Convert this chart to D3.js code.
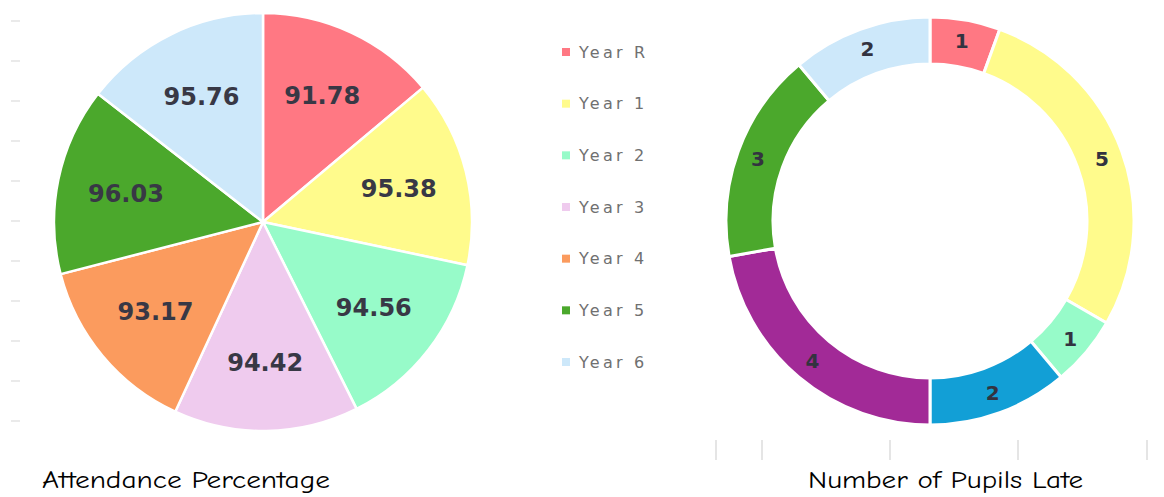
<!DOCTYPE html>
<html>
<head>
<meta charset="utf-8">
<script src="https://cdn.jsdelivr.net/npm/d3@7"></script>
<style>
  html, body { margin: 0; padding: 0; background: #ffffff; }
  svg { display: block; }
</style>
</head>
<body>
<svg id="chart" width="1164" height="497"></svg>
<script>
// ---- Data ----
const categories = ["Year R", "Year 1", "Year 2", "Year 3", "Year 4", "Year 5", "Year 6"];
const attendanceValues = [91.78, 95.38, 94.56, 94.42, 93.17, 96.03, 95.76];
const pieColors = ["#ff7883", "#fffb8c", "#97fbc9", "#efcbee", "#fb9b5e", "#4ba82c", "#cde8fa"];

const lateLabels = ["Year R", "Year 1", "Year 2", "Year 3", "Year 4", "Year 5", "Year 6"];
const lateValues = [1, 5, 1, 2, 4, 3, 2];
const donutColors = ["#ff7883", "#fffb8c", "#97fbc9", "#129fd6", "#a22a97", "#4ba82c", "#cde8fa"];

const leftTitle = "Attendance Percentage";
const rightTitle = "Number of Pupils Late";

// ---- Setup ----
const svg = d3.select("#chart");
const titleFont = "'Comic Sans MS', 'Comic Neue', 'Chalkboard SE', cursive, 'DejaVu Sans'";

// faint decorative ticks on the left
const leftTickY = d3.scaleLinear().domain([0, 10]).range([21, 421]);
svg.append("g").selectAll("line").data(d3.range(11)).join("line")
  .attr("x1", 11).attr("x2", 20)
  .attr("y1", d => leftTickY(d)).attr("y2", d => leftTickY(d))
  .attr("stroke", "#dcdcdc").attr("stroke-width", 1.2);

// ---- Pie ----
const pieCx = 263, pieCy = 222, pieR = 209;
const pie = d3.pie().sort(null).value(d => d.v);
const pieData = pie(categories.map((c, i) => ({ c, v: attendanceValues[i], col: pieColors[i] })));
const arc = d3.arc().innerRadius(0).outerRadius(pieR);
const labelArc = d3.arc().innerRadius(140).outerRadius(140);

const gPie = svg.append("g").attr("transform", `translate(${pieCx},${pieCy})`);
gPie.selectAll("path").data(pieData).join("path")
  .attr("d", arc)
  .attr("fill", d => d.data.col)
  .attr("stroke", "#ffffff")
  .attr("stroke-width", 2.5)
  .attr("stroke-linejoin", "round");
gPie.selectAll("text").data(pieData).join("text")
  .attr("transform", d => `translate(${labelArc.centroid(d)})`)
  .attr("text-anchor", "middle")
  .attr("dy", "0.36em")
  .attr("font-family", "Verdana, 'DejaVu Sans', sans-serif")
  .attr("font-weight", "bold")
  .attr("font-size", 24)
  .attr("fill", "#383845")
  .text(d => d.data.v.toFixed(2));

// ---- Legend ----
const legendY = d3.scalePoint().domain(categories).range([52, 362]);
const gLeg = svg.append("g");
const rows = gLeg.selectAll("g").data(categories).join("g")
  .attr("transform", d => `translate(562,${legendY(d)})`);
rows.append("rect")
  .attr("x", 0).attr("y", -4).attr("width", 8).attr("height", 8)
  .attr("fill", (d, i) => pieColors[i]);
rows.append("text")
  .attr("x", 17).attr("dy", "0.35em")
  .attr("font-family", "Verdana, 'DejaVu Sans', sans-serif")
  .attr("font-size", 16)
  .attr("letter-spacing", 3.2)
  .attr("fill", "#707070")
  .text(d => d);

// ---- Donut ----
const dCx = 930, dCy = 221, dOuter = 204, dInner = 157;
const donutData = pie(lateLabels.map((c, i) => ({ c, v: lateValues[i], col: donutColors[i] })));
const dArc = d3.arc().innerRadius(dInner).outerRadius(dOuter);
const dLabelArc = d3.arc().innerRadius(183).outerRadius(183);
const gD = svg.append("g").attr("transform", `translate(${dCx},${dCy})`);
gD.selectAll("path").data(donutData).join("path")
  .attr("d", dArc)
  .attr("fill", d => d.data.col)
  .attr("stroke", "#ffffff")
  .attr("stroke-width", 3);
gD.selectAll("text").data(donutData).join("text")
  .attr("transform", d => `translate(${dLabelArc.centroid(d)})`)
  .attr("text-anchor", "middle")
  .attr("dy", "0.36em")
  .attr("font-family", "Verdana, 'DejaVu Sans', sans-serif")
  .attr("font-weight", "bold")
  .attr("font-size", 20)
  .attr("fill", "#333340")
  .text(d => d.data.v);

// faint ticks under donut
const bottomTicks = [716, 762, 890, 1018, 1147];
svg.append("g").selectAll("line").data(bottomTicks).join("line")
  .attr("x1", d => d).attr("x2", d => d)
  .attr("y1", 440).attr("y2", 460)
  .attr("stroke", "#dcdcdc").attr("stroke-width", 1.5);

// ---- Titles ----
svg.append("text")
  .attr("x", 42).attr("y", 488)
  .attr("font-family", titleFont)
  .attr("font-size", 24)
  .attr("textLength", 288)
  .attr("lengthAdjust", "spacingAndGlyphs")
  .attr("fill", "#000")
  .text(leftTitle);
svg.append("text")
  .attr("x", 808).attr("y", 488)
  .attr("font-family", titleFont)
  .attr("font-size", 24)
  .attr("textLength", 275)
  .attr("lengthAdjust", "spacingAndGlyphs")
  .attr("fill", "#000")
  .text(rightTitle);
</script>
</body>
</html>
